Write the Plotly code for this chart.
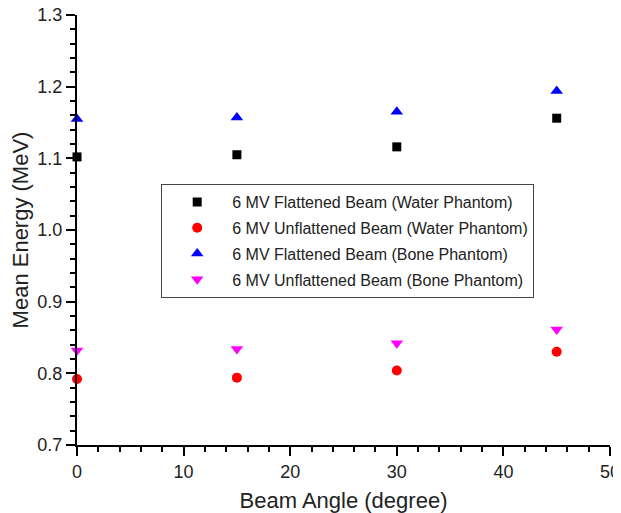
import plotly.graph_objects as go

# beam angles (degree)
angles = [0, 15, 30, 45]

# mean energy (MeV)
flat_water = [1.102, 1.105, 1.116, 1.156]
unflat_water = [0.792, 0.794, 0.804, 0.830]
flat_bone = [1.155, 1.157, 1.165, 1.194]
unflat_bone = [0.832, 0.834, 0.842, 0.861]

series = [
    ("6 MV Flattened Beam (Water Phantom)", flat_water, "square", "#000000", 9),
    ("6 MV Unflattened Beam (Water Phantom)", unflat_water, "circle", "#FF0000", 10),
    ("6 MV Flattened Beam (Bone Phantom)", flat_bone, "triangle-up", "#0000FF", 11),
    ("6 MV Unflattened Beam (Bone Phantom)", unflat_bone, "triangle-down", "#FF00FF", 11),
]

fig = go.Figure()
for i, (name, vals, sym, col, size) in enumerate(series):
    fig.add_trace(go.Scatter(
        x=angles, y=vals, mode="markers", name=name,
        legendgroup=f"g{i}",
        marker=dict(symbol=sym, color=col, size=size, line=dict(width=0)),
        cliponaxis=False,
    ))

axis_common = dict(
    showline=True, linecolor="black", linewidth=2,
    ticks="outside", ticklen=9, tickwidth=2, tickcolor="black",
    showgrid=False, zeroline=False, mirror=False, automargin=False,
    ticklabeloverflow="allow",
    tickfont=dict(size=18, color="#222222"),
)
minor_ticks = dict(ticks="outside", ticklen=5, tickwidth=2, tickcolor="black")

# page body adds an 8px offset, so the figure is a little smaller than the window
fig.update_layout(
    width=613, height=505,
    margin=dict(l=69, r=11, t=7, b=68),
    paper_bgcolor="white", plot_bgcolor="white",
    font=dict(family="Liberation Sans, Arial, sans-serif", color="#222222"),
    xaxis=dict(range=[0, 50], dtick=10, minor=dict(dtick=2, **minor_ticks),
               title=dict(text="Beam Angle (degree)", font=dict(size=22), standoff=12),
               **axis_common),
    yaxis=dict(range=[0.7, 1.3], dtick=0.1, tickformat=".1f",
               minor=dict(dtick=0.02, **minor_ticks),
               title=dict(text="Mean Energy (MeV)", font=dict(size=22), standoff=7),
               **axis_common),
    legend=dict(x=0.158, y=0.607, xanchor="left", yanchor="top",
                bgcolor="white", bordercolor="#444444", borderwidth=1,
                font=dict(size=16, color="#222222"), tracegroupgap=2,
                itemwidth=60),
)

fig.write_html("out.html")
